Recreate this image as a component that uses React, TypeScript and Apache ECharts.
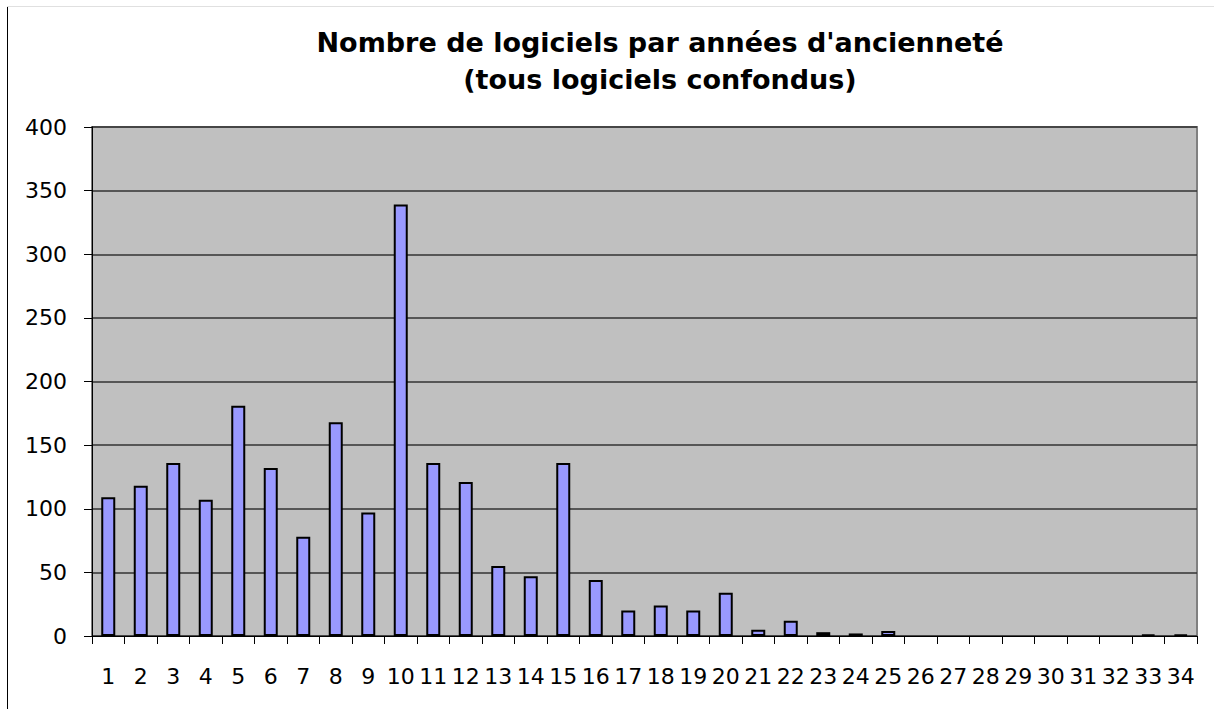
import React, { useEffect, useRef } from "react";
import * as echarts from "echarts";

const categories = ["1","2","3","4","5","6","7","8","9","10","11","12","13","14","15","16","17","18","19","20","21","22","23","24","25","26","27","28","29","30","31","32","33","34"];
const values = [109,118,136,107,181,132,78,168,97,339,136,121,55,47,136,44,20,24,20,34,5,12,3,2,4,0,0,0,0,0,0,0,1,1];
const titleLines = ["Nombre de logiciels par années d'ancienneté", "(tous logiciels confondus)"];

const FONT = "DejaVu Sans, Verdana, sans-serif";

export default function App() {
  const ref = useRef<HTMLDivElement>(null);
  useEffect(() => {
    const chart = echarts.init(ref.current!, null, { renderer: "svg" });
    chart.setOption({
      animation: false,
      backgroundColor: "#ffffff",
      textStyle: { fontFamily: FONT, color: "#000" },
      title: {
        text: titleLines.join("\n"),
        left: 655,
        textAlign: "center",
        top: 19,
        textStyle: { fontSize: 27, fontWeight: "bold", color: "#000", lineHeight: 37, fontFamily: FONT },
      },
      graphic: [
        { type: "line", shape: { x1: 7.5, y1: 6, x2: 7.5, y2: 709 }, style: { stroke: "#000", lineWidth: 1 } },
        { type: "line", shape: { x1: 7, y1: 6.5, x2: 1214, y2: 6.5 }, style: { stroke: "#e0e0e0", lineWidth: 1 } },
      ],
      grid: {
        left: 92,
        right: 17,
        top: 127,
        bottom: 73,
        show: true,
        backgroundColor: "#C0C0C0",
        borderColor: "#808080",
        borderWidth: 2,
      },
      xAxis: {
        type: "category",
        data: categories,
        boundaryGap: true,
        axisLine: { show: true, lineStyle: { color: "#000", width: 1 } },
        axisTick: { show: true, alignWithLabel: false, length: 8, lineStyle: { color: "#000" } },
        axisLabel: { color: "#000", fontSize: 22, margin: 29, interval: 0, fontFamily: FONT },
        splitLine: { show: false },
      },
      yAxis: {
        type: "value",
        min: 0,
        max: 400,
        interval: 50,
        axisLine: { show: true, lineStyle: { color: "#000", width: 1 } },
        axisTick: { show: true, length: 8, lineStyle: { color: "#000" } },
        axisLabel: { color: "#000", fontSize: 22, margin: 25, fontFamily: FONT },
        splitLine: { show: true, lineStyle: { color: "#333", width: 1.5 } },
      },
      series: [
        {
          type: "bar",
          data: values.map((v) => (v === 0 ? "-" : v)),
          barWidth: 14,
          itemStyle: { color: "#9999FF", borderColor: "#000", borderWidth: 2 },
        },
      ],
    });
    return () => chart.dispose();
  }, []);
  return <div ref={ref} style={{ position: "fixed", left: 0, top: 0, width: 1214, height: 709 }} />;
}
